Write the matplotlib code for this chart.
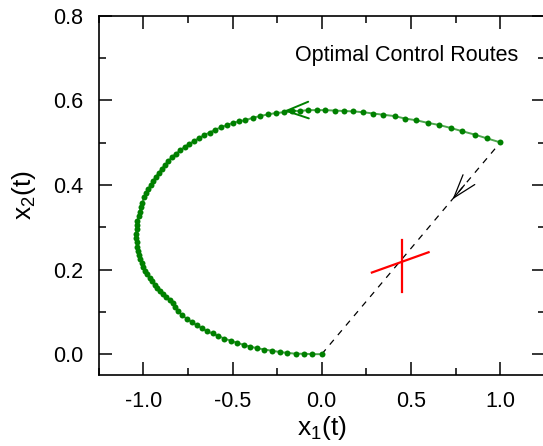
import matplotlib
matplotlib.use("Agg")
import matplotlib.pyplot as plt
from matplotlib.ticker import MultipleLocator, FormatStrFormatter

plt.rcParams['font.family'] = ['Liberation Sans', 'DejaVu Sans']
plt.rcParams['mathtext.fontset'] = 'custom'
plt.rcParams['mathtext.rm'] = 'Liberation Sans'
plt.rcParams['axes.unicode_minus'] = False

# optimal trajectory (start at (1, 0.5), end at origin)
x1 = [0.999, 0.928, 0.859, 0.789, 0.722, 0.657, 0.593, 0.531, 0.468, 0.408,
      0.346, 0.290, 0.234, 0.178, 0.124, 0.072, 0.021, -0.027, -0.076, -0.124,
      -0.167, -0.214, -0.259, -0.302, -0.345, -0.386, -0.429, -0.461, -0.496, -0.531,
      -0.565, -0.597, -0.629, -0.659, -0.688, -0.716, -0.743, -0.769, -0.793, -0.817,
      -0.840, -0.859, -0.877, -0.896, -0.913, -0.929, -0.945, -0.957, -0.972, -0.985,
      -0.996, -1.006, -1.013, -1.021, -1.027, -1.033, -1.036, -1.038, -1.040, -1.040,
      -1.038, -1.034, -1.030, -1.025, -1.017, -1.010, -1.001, -0.989, -0.978, -0.965,
      -0.952, -0.937, -0.922, -0.905, -0.888, -0.872, -0.853, -0.834, -0.821, -0.803,
      -0.784, -0.756, -0.728, -0.700, -0.670, -0.642, -0.612, -0.580, -0.547, -0.511,
      -0.475, -0.438, -0.401, -0.362, -0.321, -0.277, -0.234, -0.192, -0.145, -0.098,
      -0.052, 0.000]
x2 = [0.501, 0.510, 0.519, 0.527, 0.535, 0.542, 0.547, 0.553, 0.557, 0.563,
      0.566, 0.569, 0.572, 0.574, 0.575, 0.576, 0.577, 0.577, 0.577, 0.575,
      0.575, 0.572, 0.570, 0.567, 0.563, 0.559, 0.553, 0.551, 0.547, 0.542,
      0.536, 0.531, 0.524, 0.518, 0.511, 0.504, 0.497, 0.490, 0.482, 0.474,
      0.466, 0.457, 0.448, 0.439, 0.429, 0.420, 0.410, 0.401, 0.391, 0.381,
      0.371, 0.357, 0.348, 0.337, 0.327, 0.316, 0.305, 0.295, 0.285, 0.275,
      0.265, 0.254, 0.244, 0.235, 0.225, 0.216, 0.206, 0.197, 0.189, 0.181,
      0.172, 0.164, 0.157, 0.150, 0.142, 0.135, 0.128, 0.121, 0.112, 0.102,
      0.092, 0.084, 0.076, 0.068, 0.061, 0.054, 0.049, 0.043, 0.037, 0.032,
      0.027, 0.022, 0.018, 0.014, 0.011, 0.008, 0.005, 0.003, 0.001, 0.001,
      0.000, 0.000]

# straight route from start to target
line_x = [0.0, 1.0]
line_y = [0.0, 0.5]

# red cross (two strokes)
cross_v_x = [0.449, 0.449]
cross_v_y = [0.148, 0.270]
cross_t_x = [0.281, 0.599]
cross_t_y = [0.193, 0.241]

# arrow tips and tails
green_tip = (-0.214, 0.575)
green_tail = (-0.15, 0.576)
black_tip = (0.733, 0.366)
black_tail = (0.80, 0.40)

fig = plt.figure(figsize=(5.43, 4.46), dpi=100)
ax = fig.add_axes([0.1818, 0.1585, 0.8214, 0.806])

ax.plot(line_x, line_y, color='black', lw=0.9, linestyle=(0, (5, 5)))
ax.plot(x1, x2, color='#4ca64c', lw=1.4, marker='o', markersize=4.3,
        markerfacecolor='#008000', markeredgecolor='#008000', markeredgewidth=0)
ax.plot(cross_v_x, cross_v_y, color='red', lw=1.6)
ax.plot(cross_t_x, cross_t_y, color='red', lw=1.6)

ax.annotate('', xy=green_tip, xytext=green_tail,
            arrowprops=dict(arrowstyle='->,head_length=1.6,head_width=0.6',
                            color='#008000', lw=1.4, shrinkA=0, shrinkB=0))
ax.annotate('', xy=black_tip, xytext=black_tail,
            arrowprops=dict(arrowstyle='->,head_length=1.7,head_width=0.55',
                            color='black', lw=0.9, shrinkA=0, shrinkB=0))

ax.text(0.94, 0.874, 'Optimal Control Routes', transform=ax.transAxes,
        ha='right', va='baseline', fontsize=15.5)

ax.set_xlim(-1.25, 1.25)
ax.set_ylim(-0.05, 0.8)
ax.xaxis.set_major_locator(MultipleLocator(0.5))
ax.xaxis.set_minor_locator(MultipleLocator(0.25))
ax.yaxis.set_major_locator(MultipleLocator(0.2))
ax.yaxis.set_minor_locator(MultipleLocator(0.1))
ax.xaxis.set_major_formatter(FormatStrFormatter('%.1f'))
ax.yaxis.set_major_formatter(FormatStrFormatter('%.1f'))
ax.tick_params(which='both', direction='in', top=True, right=True, width=1.1, labelsize=15.5)
ax.tick_params(which='major', length=9.5, pad=11)
ax.tick_params(which='minor', length=5)
for s in ax.spines.values():
    s.set_linewidth(1.2)

ax.set_xlabel(r'$\mathregular{x_1(t)}$', fontsize=19, labelpad=2)
ax.set_ylabel(r'$\mathregular{x_2(t)}$', fontsize=19, labelpad=11)

fig.savefig('out.png', dpi=100)
